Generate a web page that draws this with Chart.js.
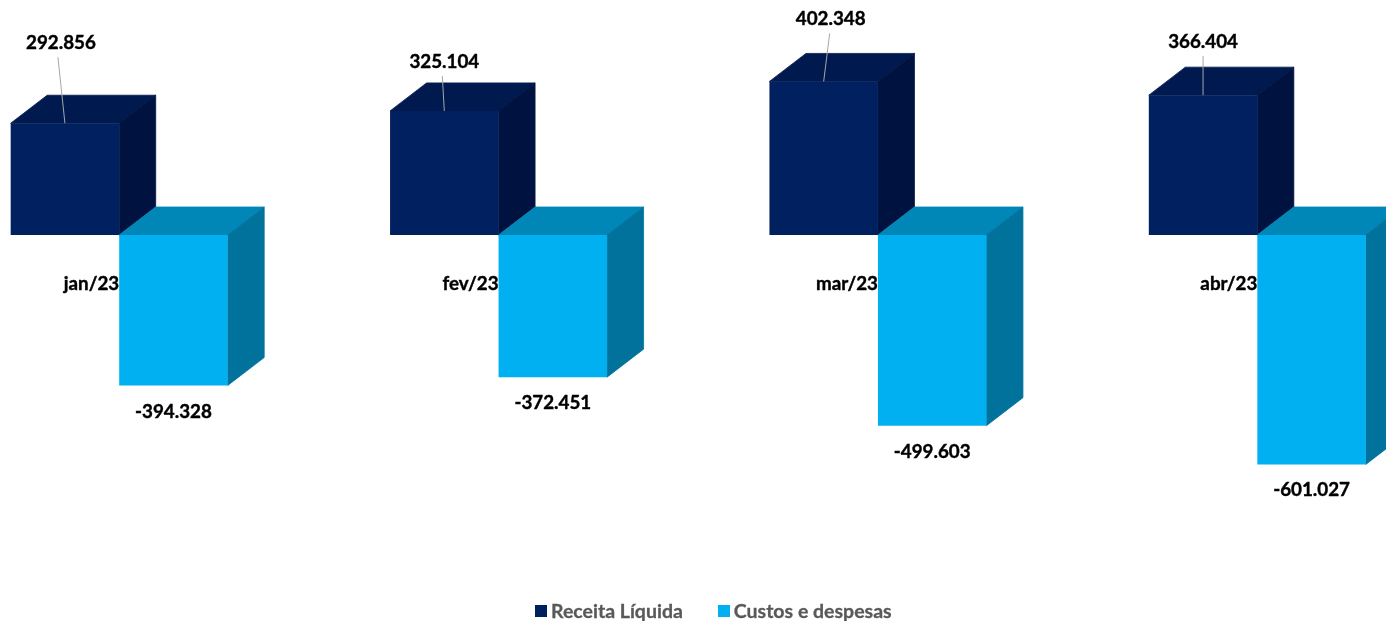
<!DOCTYPE html>
<html lang="pt-BR">
<head>
<meta charset="utf-8">
<title>Receita e custos</title>
<script src="https://cdn.jsdelivr.net/npm/chart.js@4"></script>
<style>
    html, body { margin: 0; padding: 0; background: #fff; overflow: hidden; width: 1386px; height: 621px; }
    #wrap { position: absolute; left: -71px; top: 0; width: 1518px; height: 621px; }
    #legenda { position: absolute; left: 535px; top: 600px; display: flex; font: bold 19.5px Lato; color: #595959; line-height: 22px; -webkit-text-stroke: 0.3px #595959; }
    .item { display: flex; align-items: center; }
    .item + .item { margin-left: 35px; }
    .caixa { width: 12px; height: 12px; margin-right: 4px; }
</style>
</head>
<body>
<div id="wrap"><canvas id="grafico" width="1518" height="621"></canvas></div>
<div id="legenda"></div>
<script>
// Dados
const meses = ["jan/23", "fev/23", "mar/23", "abr/23"];
const receita = [292856, 325104, 402348, 366404];
const custos = [-394328, -372451, -499603, -601027];

// Posição dos rótulos da receita (fora dos dados: deslocamentos em relação à barra)
const rotuloDx = [-4, 0, 7, 0];
const rotuloDy = [80, 49, 62, 53];
const linhaDx = [-7, -2, 6, 0];

const corReceita = "#002060";
const corCustos = "#00B0F0";
const faces = {
    [corReceita]: { topo: "#001A4F", lado: "#001340" },
    [corCustos]: { topo: "#0087B8", lado: "#00729C" }
};
const prof = { x: 36.5, y: 28 }; // profundidade do efeito 3D
const fonte = { family: "Lato", size: 18.8, weight: "bold" };

function formata(v) {
    return String(v).replace(/\B(?=(\d{3})+(?!\d))/g, ".");
}

// Preenche uma face e passa um traço fino para não sobrar fresta entre as faces
function face(ctx, cor, pontos) {
    ctx.fillStyle = cor;
    ctx.strokeStyle = cor;
    ctx.lineWidth = 0.8;
    ctx.beginPath();
    pontos.forEach(p => ctx.lineTo(p[0], p[1]));
    ctx.closePath();
    ctx.fill();
    ctx.stroke();
}

// Desenha o topo e a lateral de cada barra
const barras3d = {
    id: "barras3d",
    beforeDatasetsDraw(chart) {
        const ctx = chart.ctx;
        chart.data.datasets.forEach((ds, i) => {
            chart.getDatasetMeta(i).data.forEach(el => {
                const esq = el.x - el.width / 2;
                const dir = el.x + el.width / 2;
                const cima = Math.min(el.y, el.base);
                const baixo = Math.max(el.y, el.base);
                const cor = faces[ds.backgroundColor];

                face(ctx, cor.topo, [
                    [esq, cima],
                    [esq + prof.x, cima - prof.y],
                    [dir + prof.x, cima - prof.y],
                    [dir, cima]
                ]);
                face(ctx, cor.lado, [
                    [dir, cima],
                    [dir + prof.x, cima - prof.y],
                    [dir + prof.x, baixo - prof.y],
                    [dir, baixo]
                ]);
            });
        });
    },
    afterDatasetsDraw(chart) {
        const ctx = chart.ctx;
        ctx.save();
        ctx.font = `${fonte.weight} ${fonte.size}px ${fonte.family}`;
        ctx.textAlign = "center";
        ctx.textBaseline = "middle";

        const escreve = (texto, x, y) => {
            ctx.fillStyle = "#000";
            ctx.strokeStyle = "#000";
            ctx.lineWidth = 0.4;
            ctx.fillText(texto, x, y);
            ctx.strokeText(texto, x, y);
        };

        chart.getDatasetMeta(0).data.forEach((el, i) => {
            const yTexto = el.y - rotuloDy[i];
            ctx.strokeStyle = "#A6A6A6";
            ctx.lineWidth = 1;
            ctx.beginPath();
            ctx.moveTo(el.x, el.y);
            ctx.lineTo(el.x + linhaDx[i], yTexto + 14);
            ctx.stroke();
            escreve(formata(receita[i]), el.x + rotuloDx[i], yTexto);
        });

        chart.getDatasetMeta(1).data.forEach((el, i) => {
            escreve("-" + formata(-custos[i]), el.x, el.y + 26);
        });
        ctx.restore();
    }
};

const grafico = new Chart(document.getElementById("grafico"), {
    type: "bar",
    data: {
        labels: meses,
        datasets: [
            { label: "Receita Líquida", data: receita, backgroundColor: corReceita },
            { label: "Custos e despesas", data: custos, backgroundColor: corCustos }
        ]
    },
    options: {
        responsive: false,
        animation: false,
        devicePixelRatio: 1,
        layout: { padding: { top: 6, left: 0.5, right: 0, bottom: 42.5 } },
        datasets: { bar: { categoryPercentage: 0.572, barPercentage: 1, borderWidth: 0 } },
        scales: {
            x: {
                position: { y: 0 },
                grid: { display: false, drawTicks: false },
                border: { display: false },
                ticks: {
                    align: "end",
                    padding: 38,
                    color: "#000",
                    font: fonte,
                    textStrokeColor: "#000",
                    textStrokeWidth: 0.4,
                    autoSkip: false,
                    maxRotation: 0
                }
            },
            y: { display: false, min: -900000, max: 600000 }
        },
        plugins: {
            legend: { display: false },
            tooltip: { enabled: false }
        }
    },
    plugins: [barras3d]
});

// Legenda montada a partir das séries do gráfico
grafico.data.datasets.forEach(ds => {
    const item = document.createElement("div");
    item.className = "item";
    item.innerHTML = `<span class="caixa" style="background:${ds.backgroundColor}"></span>${ds.label}`;
    document.getElementById("legenda").appendChild(item);
});
</script>
</body>
</html>
